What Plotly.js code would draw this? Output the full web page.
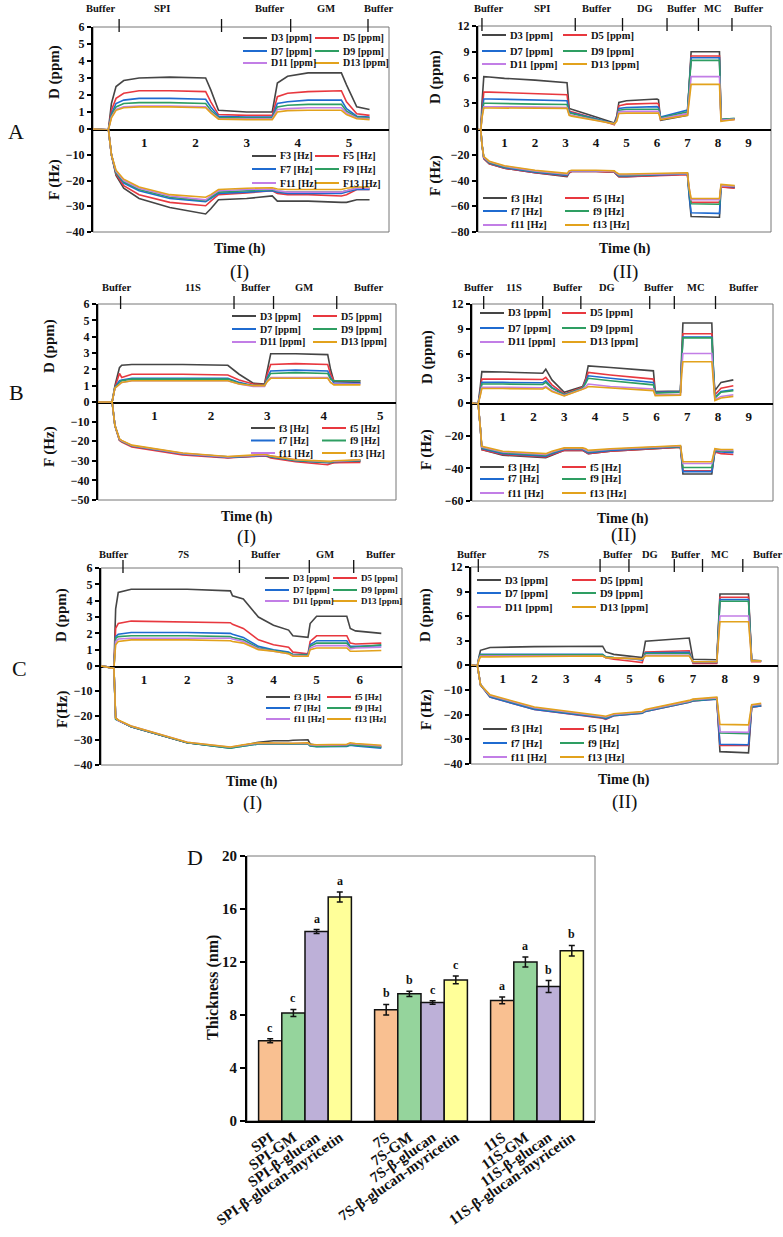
<!DOCTYPE html>
<html>
<head>
<meta charset="utf-8">
<script src="https://cdn.plot.ly/plotly-3.0.1.min.js"></script>
<style>body{margin:0;background:#fff}</style>
</head>
<body>
<div id="chart" style="width:783px;height:1237px"></div>
<script>
// ---------- A (I): SPI / GM ----------
var A1_t   = [0, 0.3, 0.36, 0.45, 0.6, 0.9, 1.5, 2.2, 2.3, 2.45, 3.0, 3.5, 3.6, 3.8, 4.2, 4.85, 4.95, 5.15, 5.4];
var A1_D3  = [0, -0.05, 1.5, 2.5, 2.85, 3.0, 3.05, 3.0, 2.3, 1.1, 1.0, 1.0, 2.7, 3.1, 3.3, 3.3, 2.6, 1.3, 1.15];
var A1_D5  = [0, -0.05, 1.1, 1.8, 2.1, 2.25, 2.25, 2.2, 1.6, 0.85, 0.8, 0.8, 1.9, 2.1, 2.2, 2.25, 1.6, 0.9, 0.8];
var A1_D7  = [0, -0.05, 0.9, 1.5, 1.7, 1.8, 1.8, 1.75, 1.3, 0.75, 0.7, 0.7, 1.5, 1.6, 1.7, 1.7, 1.2, 0.75, 0.7];
var A1_D9  = [0, -0.05, 0.8, 1.3, 1.5, 1.55, 1.55, 1.5, 1.1, 0.68, 0.65, 0.65, 1.3, 1.4, 1.45, 1.45, 1.05, 0.7, 0.65];
var A1_D11 = [0, -0.05, 0.7, 1.15, 1.3, 1.35, 1.35, 1.3, 1.0, 0.62, 0.6, 0.6, 1.15, 1.2, 1.25, 1.25, 0.95, 0.65, 0.6];
var A1_D13 = [0, -0.05, 0.65, 1.1, 1.25, 1.3, 1.3, 1.25, 0.95, 0.58, 0.55, 0.55, 1.0, 1.08, 1.1, 1.1, 0.85, 0.6, 0.55];
var A1_F3  = [0, 0, -10, -18, -23, -27, -30.5, -33, -31, -27.5, -27, -26, -28, -28, -28, -28.5, -28.5, -27.5, -27.5];
var A1_F5  = [0, 0, -10, -17.5, -22, -25.5, -28.5, -29.8, -28, -25.5, -24.8, -24, -25, -25.5, -25.5, -26, -25.5, -23.5, -23.5];
var A1_F7  = [0, 0, -10, -17, -21, -24, -27, -28.2, -27, -25, -24.5, -24, -24.5, -25, -25, -25, -24.5, -23.5, -23.5];
var A1_F9  = [0, 0, -10, -17, -20.5, -23.5, -26.5, -27.8, -26.5, -24.5, -24, -23.5, -24.2, -24.5, -24.5, -24.5, -24, -23, -23];
var A1_F11 = [0, 0, -10, -16.5, -20, -23, -26, -27.5, -26, -24, -23.5, -23.3, -24, -24.5, -24.5, -24.5, -24, -23, -23];
var A1_F13 = [0, 0, -10, -16, -19.5, -22.5, -25.5, -26.5, -25.5, -23.5, -23, -22.8, -23.3, -23.5, -23.5, -23.5, -23, -22.5, -22.5];
var A1_bounds = [0.51, 2.51, 3.86, 5.37];
var A1_stages = ['Buffer', 'SPI', 'Buffer', 'GM', 'Buffer'];
var A1_stageX = [0.14, 1.34, 3.44, 4.55, 5.57];

// ---------- A (II): SPI / DG / MC ----------
var A2_t   = [0.13, 0.22, 0.26, 0.32, 0.5, 1.0, 2.0, 3.05, 3.12, 3.2, 4.0, 4.6, 4.68, 4.75, 5.0, 6.0, 6.05, 6.12, 7.0, 7.05, 7.12, 8.0, 8.05, 8.1, 8.55];
var A2_D3  = [0, -0.2, 3.0, 6.1, 6.05, 5.9, 5.7, 5.4, 2.4, 2.3, 1.4, 0.7, 1.5, 3.1, 3.3, 3.5, 3.4, 1.0, 1.6, 5.0, 9.0, 9.0, 9.0, 1.1, 1.2];
var A2_D5  = [0, -0.2, 2.0, 4.3, 4.3, 4.25, 4.15, 4.0, 2.1, 2.0, 1.2, 0.5, 1.3, 2.7, 2.9, 3.0, 2.9, 1.1, 1.8, 4.5, 8.5, 8.5, 8.5, 1.0, 1.1];
var A2_D7  = [0, -0.2, 1.8, 3.5, 3.5, 3.45, 3.4, 3.3, 2.0, 1.9, 1.2, 0.6, 1.2, 2.4, 2.5, 2.6, 2.5, 1.4, 2.2, 4.5, 8.3, 8.3, 8.3, 1.1, 1.2];
var A2_D9  = [0, -0.2, 1.6, 3.0, 3.0, 2.95, 2.9, 2.85, 1.9, 1.8, 1.1, 0.6, 1.1, 2.2, 2.3, 2.35, 2.3, 1.3, 2.0, 4.5, 8.0, 8.0, 8.0, 1.1, 1.25];
var A2_D11 = [0, -0.2, 1.4, 2.6, 2.6, 2.6, 2.55, 2.5, 1.7, 1.6, 1.0, 0.6, 1.0, 2.0, 2.05, 2.1, 2.05, 1.2, 1.8, 3.5, 6.1, 6.1, 6.1, 1.0, 1.15];
var A2_D13 = [0, -0.2, 1.3, 2.45, 2.45, 2.45, 2.4, 2.4, 1.6, 1.5, 1.0, 0.6, 0.9, 1.8, 1.85, 1.9, 1.85, 1.1, 1.6, 3.0, 5.2, 5.2, 5.2, 0.9, 1.1];
var A2_F3  = [0, 0, -12, -23, -27, -30.5, -34, -37, -34, -33, -33, -33.5, -35.5, -37, -37, -36, -36, -36, -35, -50, -68, -68.5, -68.5, -45, -45.5];
var A2_F5  = [0, 0, -12, -23, -27, -30.5, -34, -36.5, -34, -33, -33, -33.5, -35.5, -37, -37, -36, -36, -36, -35.5, -47, -57, -57, -57, -45, -46];
var A2_F7  = [0, 0, -12, -22.5, -26.5, -30, -33.5, -36, -33.5, -32.5, -32.5, -33, -35, -36.5, -36.5, -35.5, -35.5, -35.5, -35, -50, -65, -65.5, -65.5, -44, -45];
var A2_F9  = [0, 0, -12, -22, -26, -29.5, -33, -35.5, -33, -32.5, -32.5, -33, -34.5, -36, -36, -35, -35, -35, -34.5, -47, -58, -58.5, -58.5, -44, -44.5];
var A2_F11 = [0, 0, -12, -22, -25.5, -29, -32.5, -35, -33, -32.5, -32.5, -33, -34.5, -35.5, -35.5, -35, -35, -35, -34.5, -45, -55, -55, -55, -44, -44.5];
var A2_F13 = [0, 0, -12, -21.5, -25, -28.5, -32, -34.5, -32.5, -32, -32, -32.5, -34, -35, -35, -34.5, -34.5, -34.5, -34, -45, -54, -54, -54, -43, -44];
var A2_bounds = [0.26, 3.32, 4.87, 6.33, 7.36, 8.46];
var A2_stages = ['Buffer', 'SPI', 'Buffer', 'DG', 'Buffer', 'MC', 'Buffer'];
var A2_stageX = [0.48, 2.23, 4.03, 5.61, 6.82, 7.85, 9.0];

// ---------- B (I): 11S / GM ----------
var B1_t   = [0, 0.25, 0.3, 0.38, 0.42, 0.6, 1.5, 2.3, 2.5, 2.75, 2.95, 3.0, 3.06, 3.5, 4.07, 4.12, 4.18, 4.65];
var B1_D3  = [0, 0, 1.0, 2.1, 2.25, 2.3, 2.3, 2.25, 1.7, 1.15, 1.1, 2.0, 2.95, 2.95, 2.9, 2.0, 1.25, 1.2];
var B1_D5  = [0, 0, 0.9, 1.75, 1.5, 1.7, 1.7, 1.65, 1.35, 1.1, 1.05, 1.7, 2.3, 2.35, 2.3, 1.7, 1.3, 1.3];
var B1_D7  = [0, 0, 0.9, 1.3, 1.35, 1.45, 1.45, 1.45, 1.2, 1.0, 1.0, 1.5, 1.9, 1.95, 1.9, 1.5, 1.15, 1.15];
var B1_D9  = [0, 0, 0.9, 1.2, 1.3, 1.4, 1.4, 1.4, 1.15, 1.0, 1.0, 1.4, 1.75, 1.8, 1.75, 1.4, 1.3, 1.3];
var B1_D11 = [0, 0, 0.85, 1.1, 1.2, 1.3, 1.3, 1.3, 1.1, 0.95, 0.95, 1.3, 1.5, 1.5, 1.5, 1.2, 1.1, 1.1];
var B1_D13 = [0, 0, 0.85, 1.1, 1.2, 1.3, 1.3, 1.3, 1.1, 1.0, 1.0, 1.25, 1.45, 1.45, 1.45, 1.2, 1.05, 1.05];
var B1_F3  = [0, 0, -12, -19.5, -20, -22.5, -26.5, -28.3, -28, -27.5, -27.3, -27.5, -28, -30, -31, -31, -30.8, -30.2];
var B1_F5  = [0, 0, -12, -19.5, -20.5, -23, -27, -28.5, -28.2, -27.8, -27.5, -27.8, -28.5, -30.5, -32, -31.5, -31, -30.8];
var B1_F7  = [0, 0, -12, -19, -20, -22.5, -26.5, -28.3, -28, -27.5, -27.3, -27.5, -28, -30, -31, -31, -30.5, -30];
var B1_F9  = [0, 0, -12, -19, -20, -22.3, -26.3, -28, -27.8, -27.3, -27, -27.3, -27.8, -29.8, -30.8, -30.8, -30.3, -29.8];
var B1_F11 = [0, 0, -12, -19, -19.8, -22.2, -26.2, -28, -27.7, -27.2, -26.8, -27, -27.5, -29.5, -30.5, -30.5, -30.2, -29.6];
var B1_F13 = [0, 0, -12, -18.8, -19.6, -22, -26, -27.8, -27.5, -27, -26.7, -27, -27.5, -29.5, -30.5, -30.3, -30, -29.5];
var B1_bounds = [0.40, 2.41, 3.11, 4.23];
var B1_stages = ['Buffer', '11S', 'Buffer', 'GM', 'Buffer'];
var B1_stageX = [0.33, 1.69, 2.79, 3.65, 4.79];

// ---------- B (II): 11S / DG / MC ----------
var B2_t   = [0, 0.2, 0.27, 0.32, 1.0, 2.3, 2.4, 2.6, 3.0, 3.6, 3.7, 3.78, 4.5, 5.9, 5.96, 6.78, 6.82, 6.86, 7.8, 7.85, 7.9, 8.1, 8.5];
var B2_D3  = [0, -0.1, 2.0, 3.8, 3.75, 3.6, 4.1, 2.8, 1.3, 2.0, 3.0, 4.5, 4.3, 3.9, 1.4, 1.45, 6.0, 9.7, 9.7, 4.0, 1.5, 2.5, 2.8];
var B2_D5  = [0, -0.1, 1.5, 2.9, 2.9, 2.85, 3.1, 2.2, 1.1, 1.9, 2.8, 3.7, 3.4, 2.9, 1.3, 1.35, 5.0, 8.4, 8.4, 3.5, 1.0, 1.8, 2.1];
var B2_D7  = [0, -0.1, 1.3, 2.5, 2.5, 2.45, 2.7, 1.9, 1.0, 1.8, 2.6, 3.3, 3.0, 2.5, 1.3, 1.35, 5.0, 8.0, 8.0, 3.3, 0.7, 1.4, 1.6];
var B2_D9  = [0, -0.1, 1.2, 2.3, 2.3, 2.25, 2.5, 1.8, 1.0, 1.8, 2.4, 3.0, 2.7, 2.2, 1.2, 1.3, 5.0, 7.9, 7.9, 3.2, 0.6, 1.3, 1.5];
var B2_D11 = [0, -0.1, 1.0, 1.9, 1.9, 1.85, 2.0, 1.5, 0.9, 1.7, 2.0, 2.3, 2.0, 1.7, 1.0, 1.05, 4.0, 6.0, 6.0, 2.5, 0.4, 0.8, 1.0];
var B2_D13 = [0, -0.1, 0.9, 1.75, 1.75, 1.7, 1.9, 1.4, 0.85, 1.6, 1.8, 2.0, 1.8, 1.5, 0.9, 0.95, 3.5, 5.0, 5.0, 2.2, 0.3, 0.6, 0.8];
var B2_F3  = [0, 0, -15, -28.5, -32, -33.5, -33.5, -32, -29, -29, -30, -31, -29.5, -28, -28, -27, -35, -43.5, -43.5, -35, -29, -29.5, -30];
var B2_F5  = [0, 0, -15, -28.5, -31.5, -33, -33, -31.5, -29, -29, -30, -31, -29.5, -28, -28, -27, -34, -41.5, -41.5, -34, -30, -31, -31.5];
var B2_F7  = [0, 0, -15, -28, -31, -32.5, -32.5, -31, -28.5, -28.5, -29.5, -30.5, -29, -27.5, -27.5, -26.8, -34, -42, -42, -34, -29.5, -30, -30.5];
var B2_F9  = [0, 0, -15, -27.5, -30.5, -32, -32, -30.5, -28, -28, -29, -30, -28.5, -27.3, -27.3, -26.6, -33, -39.5, -39.5, -33, -29, -29.5, -29.5];
var B2_F11 = [0, 0, -15, -27, -30, -31.5, -31.5, -30, -27.8, -27.8, -28.5, -29.5, -28.3, -27, -27, -26.3, -32, -37, -37, -32, -28.5, -29, -29];
var B2_F13 = [0, 0, -15, -26.5, -29.5, -31, -31, -29.5, -27.5, -27.5, -28, -29, -28, -26.8, -26.8, -26, -31, -36, -36, -31, -28, -28.5, -28.5];
var B2_bounds = [0.38, 2.30, 3.54, 5.78, 6.58, 7.92];
var B2_stages = ['Buffer', '11S', 'Buffer', 'DG', 'Buffer', 'MC', 'Buffer'];
var B2_stageX = [0.22, 1.36, 3.09, 4.39, 6.07, 7.30, 8.84];

// ---------- C (I): 7S / GM ----------
var C1_t   = [0, 0.3, 0.34, 0.4, 0.7, 2.0, 3.0, 3.05, 3.3, 3.65, 4.0, 4.35, 4.45, 4.8, 4.85, 5.0, 5.7, 5.78, 5.9, 6.5];
var C1_D3  = [0, -0.1, 3.5, 4.5, 4.7, 4.7, 4.6, 4.3, 4.1, 3.0, 2.5, 2.2, 1.85, 1.75, 2.6, 3.05, 3.05, 2.3, 2.15, 2.0];
var C1_D5  = [0, -0.1, 2.3, 2.6, 2.75, 2.7, 2.65, 2.55, 2.3, 1.6, 1.3, 1.15, 0.85, 0.75, 1.5, 1.85, 1.85, 1.4, 1.35, 1.4];
var C1_D7  = [0, -0.1, 1.8, 1.95, 2.05, 2.05, 2.0, 1.95, 1.75, 1.2, 1.0, 0.85, 0.7, 0.7, 1.3, 1.55, 1.55, 1.2, 1.2, 1.25];
var C1_D9  = [0, -0.1, 1.7, 1.8, 1.85, 1.85, 1.8, 1.75, 1.6, 1.1, 0.95, 0.8, 0.7, 0.65, 1.2, 1.4, 1.4, 1.15, 1.15, 1.3];
var C1_D11 = [0, -0.1, 1.5, 1.65, 1.7, 1.7, 1.7, 1.65, 1.5, 1.05, 0.9, 0.75, 0.65, 0.6, 1.1, 1.25, 1.25, 1.05, 1.1, 1.15];
var C1_D13 = [0, -0.1, 1.3, 1.5, 1.6, 1.6, 1.55, 1.5, 1.4, 1.0, 0.9, 0.75, 0.6, 0.6, 1.0, 1.1, 1.1, 0.9, 0.9, 0.95];
var C1_F3  = [0, -1, -21, -22, -24.5, -31, -33, -32.8, -32, -30.8, -30.2, -30.2, -30, -29.8, -31.5, -32, -32, -31.5, -31.8, -32.5];
var C1_F5  = [0, -1, -21, -22, -24.5, -31, -33, -32.8, -32, -31.3, -31.5, -31.5, -31.5, -31.3, -32, -32.3, -32.2, -31.8, -32, -32.8];
var C1_F7  = [0, -1, -21.5, -22, -24.5, -31, -33.2, -33, -32.3, -31.5, -31.5, -31.5, -31.5, -31.5, -32.3, -32.6, -32.5, -32, -32.3, -33.2];
var C1_F9  = [0, -1, -21.5, -22, -24.5, -31, -33.2, -33, -32.3, -31.5, -31.5, -31.5, -31.5, -31.5, -32.2, -32.5, -32.3, -31.8, -32, -32.8];
var C1_F11 = [0, -1, -21, -22, -24.3, -30.8, -32.8, -32.6, -32, -31.2, -31.3, -31.3, -31.3, -31.2, -31.8, -32, -31.8, -31.3, -31.5, -32.3];
var C1_F13 = [0, -1, -21, -21.8, -24.2, -30.8, -32.7, -32.5, -31.8, -31, -31.2, -31.2, -31.2, -31, -31.6, -31.8, -31.6, -31, -31.3, -32];
var C1_bounds = [0.51, 3.21, 4.83, 5.86];
var C1_stages = ['Buffer', '7S', 'Buffer', 'GM', 'Buffer'];
var C1_stageX = [0.30, 1.91, 3.82, 5.2, 6.48];

// ---------- C (II): 7S / DG / MC ----------
var C2_t   = [0, 0.2, 0.25, 0.3, 0.6, 2.0, 4.15, 4.25, 4.5, 5.0, 5.4, 5.45, 5.5, 6.88, 6.93, 7.0, 7.75, 7.8, 7.85, 8.75, 8.8, 8.85, 9.15];
var C2_D3  = [0, -0.1, 1.0, 1.8, 2.15, 2.25, 2.3, 1.6, 1.3, 1.1, 0.9, 1.8, 2.9, 3.3, 2.0, 0.7, 0.65, 4.5, 8.7, 8.7, 4.0, 0.6, 0.5];
var C2_D5  = [0, -0.1, 0.8, 1.2, 1.2, 1.2, 1.2, 0.9, 0.7, 0.5, 0.3, 1.0, 1.6, 1.75, 1.0, 0.2, 0.2, 4.3, 8.3, 8.3, 4.0, 0.4, 0.4];
var C2_D7  = [0, -0.1, 0.8, 1.3, 1.3, 1.3, 1.3, 1.0, 0.9, 0.8, 0.6, 1.0, 1.5, 1.55, 1.0, 0.3, 0.3, 4.2, 8.0, 8.0, 3.8, 0.5, 0.5];
var C2_D9  = [0, -0.1, 0.8, 1.25, 1.25, 1.25, 1.25, 1.0, 0.9, 0.8, 0.7, 1.0, 1.4, 1.4, 0.9, 0.4, 0.4, 4.0, 7.8, 7.8, 3.7, 0.5, 0.5];
var C2_D11 = [0, -0.1, 0.7, 1.1, 1.1, 1.1, 1.1, 0.9, 0.85, 0.8, 0.75, 0.9, 1.2, 1.2, 0.8, 0.4, 0.4, 3.2, 6.0, 6.0, 3.0, 0.5, 0.5];
var C2_D13 = [0, -0.1, 0.6, 1.0, 1.0, 1.05, 1.1, 0.9, 0.85, 0.8, 0.75, 0.9, 1.1, 1.1, 0.8, 0.4, 0.4, 2.8, 5.3, 5.3, 2.7, 0.5, 0.5];
var C2_F3  = [0, 0, -4, -8, -12.5, -17.5, -21, -21.5, -20.3, -19.7, -19.2, -18.8, -18.5, -14.8, -14.5, -14.3, -13.5, -24, -35, -35.5, -25, -17, -16.5];
var C2_F5  = [0, 0, -4, -8, -13, -18, -21.5, -22, -20.5, -20, -19.5, -19, -18.8, -15, -14.7, -14.5, -13.7, -23, -32.5, -32.5, -24, -17, -16.5];
var C2_F7  = [0, 0, -4, -8, -13, -18, -21.3, -21.8, -20.5, -20, -19.5, -19, -18.8, -15, -14.7, -14.5, -13.8, -23, -32, -32.2, -24, -17, -16.5];
var C2_F9  = [0, 0, -4, -8, -12.5, -17.5, -21, -21.3, -20.2, -19.7, -19.2, -18.8, -18.5, -14.8, -14.5, -14.3, -13.5, -20, -27.5, -27.8, -22, -16.5, -16];
var C2_F11 = [0, 0, -4, -8, -12.3, -17.3, -20.8, -21, -20, -19.5, -19, -18.6, -18.3, -14.6, -14.3, -14, -13.3, -20, -27, -27.2, -21, -16.3, -15.8];
var C2_F13 = [0, 0, -4, -8, -12, -17, -20.5, -20.7, -19.7, -19.2, -18.8, -18.4, -18, -14.3, -14, -13.8, -13, -18, -24, -24.2, -20, -16, -15.5];
var C2_bounds = [0.23, 4.07, 4.98, 6.41, 7.30, 8.57];
var C2_stages = ['Buffer', '7S', 'Buffer', 'DG', 'Buffer', 'MC', 'Buffer'];
var C2_stageX = [0.0, 2.28, 4.63, 5.65, 6.77, 7.86, 9.36];

// ---------- D: thickness ----------
var barNames   = ['SPI', 'SPI-GM', 'SPI-β-glucan', 'SPI-β-glucan-myricetin',
                  '7S', '7S-GM', '7S-β-glucan', '7S-β-glucan-myricetin',
                  '11S', '11S-GM', '11S-β-glucan', '11S-β-glucan-myricetin'];
var barValues  = [6.05, 8.15, 14.3, 16.9, 8.4, 9.6, 8.95, 10.65, 9.1, 12.0, 10.15, 12.85];
var barErrors  = [0.15, 0.27, 0.15, 0.38, 0.4, 0.2, 0.13, 0.3, 0.25, 0.38, 0.45, 0.4];
var barLetters = ['c', 'c', 'a', 'a', 'b', 'b', 'c', 'c', 'a', 'a', 'b', 'b'];

var harmonics = ['3', '5', '7', '9', '11', '13'];
var lineColors = ['#454545', '#e8383f', '#1f6bd0', '#2e9e62', '#c27ee6', '#e2a21c'];
var barColors = ['#f9c091', '#95d49c', '#bdb0d8', '#ffff99'];

var FONT = '"Liberation Serif", "Times New Roman", serif';
var W = 783, H = 1237;
function px(x) { return x / W; }
function py(y) { return 1 - y / H; }
function ref(letter, n) { return n === 1 ? letter : letter + n; }
function key(letter, n) { return n === 1 ? letter + 'axis' : letter + 'axis' + n; }
function bold(size) { return {family: FONT, size: size, color: '#111', weight: 'bold'}; }

var panels = [
  {t: A1_t, D: [A1_D3, A1_D5, A1_D7, A1_D9, A1_D11, A1_D13], F: [A1_F3, A1_F5, A1_F7, A1_F9, A1_F11, A1_F13],
   fPrefix: 'F', box: [93, 389, 27, 129, 232], xRange: [0, 5.78], xTicks: [1, 2, 3, 4, 5],
   dTicks: [0, 1, 2, 3, 4, 5, 6], fTicks: [-40, -30, -20, -10],
   bounds: A1_bounds, stages: A1_stages, stageX: A1_stageX, stageY: 9,
   dLeg: {x: [243, 315], y: [38, 51, 63]}, fLeg: {x: [252, 315], y: [156, 169, 183]}, legSize: 10,
   yTitleX: 55, dTitleY: 72, fTitleY: 180, fTitle: 'F (Hz)',
   timeX: 240, timeY: 249, roman: '(I)', romanY: 272},
  {t: A2_t, D: [A2_D3, A2_D5, A2_D7, A2_D9, A2_D11, A2_D13], F: [A2_F3, A2_F5, A2_F7, A2_F9, A2_F11, A2_F13],
   fPrefix: 'f', box: [478, 771, 26, 129, 232], xRange: [0.13, 9.74], xTicks: [1, 2, 3, 4, 5, 6, 7, 8, 9],
   dTicks: [0, 3, 6, 9, 12], fTicks: [-80, -60, -40, -20],
   bounds: A2_bounds, stages: A2_stages, stageX: A2_stageX, stageY: 9,
   dLeg: {x: [482, 563], y: [35, 51, 64]}, fLeg: {x: [483, 565], y: [198, 211, 225]}, legSize: 10.5,
   yTitleX: 436, dTitleY: 77, fTitleY: 175, fTitle: 'F (Hz)',
   timeX: 625, timeY: 249, roman: '(II)', romanY: 272},
  {t: B1_t, D: [B1_D3, B1_D5, B1_D7, B1_D9, B1_D11, B1_D13], F: [B1_F3, B1_F5, B1_F7, B1_F9, B1_F11, B1_F13],
   fPrefix: 'f', box: [98, 396, 304, 402, 500], xRange: [0, 5.28], xTicks: [1, 2, 3, 4, 5],
   dTicks: [0, 1, 2, 3, 4, 5, 6], fTicks: [-50, -40, -30, -20, -10],
   bounds: B1_bounds, stages: B1_stages, stageX: B1_stageX, stageY: 288,
   dLeg: {x: [232, 313], y: [316, 329, 342]}, fLeg: {x: [251, 322], y: [428, 440.5, 453]}, legSize: 10,
   yTitleX: 49, dTitleY: 346, fTitleY: 447, fTitle: 'F (Hz)',
   timeX: 247, timeY: 517, roman: '(I)', romanY: 537},
  {t: B2_t, D: [B2_D3, B2_D5, B2_D7, B2_D9, B2_D11, B2_D13], F: [B2_F3, B2_F5, B2_F7, B2_F9, B2_F11, B2_F13],
   fPrefix: 'f', box: [472, 773, 304, 403, 501], xRange: [0, 9.79], xTicks: [1, 2, 3, 4, 5, 6, 7, 8, 9],
   dTicks: [0, 3, 6, 9, 12], fTicks: [-60, -40, -20],
   bounds: B2_bounds, stages: B2_stages, stageX: B2_stageX, stageY: 288,
   dLeg: {x: [480, 562], y: [313, 328, 342]}, fLeg: {x: [480, 562], y: [467, 479, 493]}, legSize: 10.5,
   yTitleX: 427, dTitleY: 357, fTitleY: 450, fTitle: 'F (Hz)',
   timeX: 623, timeY: 519, roman: '(II)', romanY: 535},
  {t: C1_t, D: [C1_D3, C1_D5, C1_D7, C1_D9, C1_D11, C1_D13], F: [C1_F3, C1_F5, C1_F7, C1_F9, C1_F11, C1_F13],
   fPrefix: 'f', box: [101, 402, 568, 666, 765], xRange: [0, 6.98], xTicks: [1, 2, 3, 4, 5, 6],
   dTicks: [0, 1, 2, 3, 4, 5, 6], fTicks: [-40, -30, -20, -10],
   bounds: C1_bounds, stages: C1_stages, stageX: C1_stageX, stageY: 554,
   dLeg: {x: [265, 333], y: [578, 590, 601]}, fLeg: {x: [266, 327], y: [697, 708, 719]}, legSize: 9,
   yTitleX: 62, dTitleY: 615, fTitleY: 710, fTitle: 'F(Hz)',
   timeX: 252, timeY: 782, roman: '(I)', romanY: 803},
  {t: C2_t, D: [C2_D3, C2_D5, C2_D7, C2_D9, C2_D11, C2_D13], F: [C2_F3, C2_F5, C2_F7, C2_F9, C2_F11, C2_F13],
   fPrefix: 'f', box: [471, 778, 567, 665, 764], xRange: [0, 9.68], xTicks: [1, 2, 3, 4, 5, 6, 7, 8, 9],
   dTicks: [0, 3, 6, 9, 12], fTicks: [-40, -30, -20, -10],
   bounds: C2_bounds, stages: C2_stages, stageX: C2_stageX, stageY: 554,
   dLeg: {x: [477, 572], y: [580, 593, 607]}, fLeg: {x: [483, 560], y: [729, 743, 757]}, legSize: 10.5,
   yTitleX: 426, dTitleY: 615, fTitleY: 710, fTitle: 'F (Hz)',
   timeX: 624, timeY: 780, roman: '(II)', romanY: 802}
];

var traces = [];
var layout = {
  width: W, height: H,
  margin: {l: 0, r: 0, t: 0, b: 0},
  paper_bgcolor: '#fff', plot_bgcolor: 'rgba(0,0,0,0)',
  showlegend: false,
  font: {family: FONT, color: '#111'},
  shapes: [], annotations: []
};

// text placed by its centre at a pixel position of the page
function note(text, x, y, font, extra) {
  var a = {xref: 'paper', yref: 'paper', x: px(x), y: py(y), xanchor: 'center', yanchor: 'middle',
    showarrow: false, text: text, font: font};
  layout.annotations.push(Object.assign(a, extra || {}));
}

function legendBlock(leg, names, size) {
  for (var k = 0; k < names.length; k++) {
    var col = k % 2, row = Math.floor(k / 2);
    var x0 = leg.x[col], y0 = leg.y[row];
    layout.shapes.push({type: 'line', xref: 'paper', yref: 'paper',
      x0: px(x0), x1: px(x0 + 24), y0: py(y0), y1: py(y0),
      line: {color: lineColors[k], width: 2}});
    note(names[k], x0 + 26, y0, bold(size), {xanchor: 'left'});
  }
}

panels.forEach(function (p, i) {
  var xn = i + 1, yd = 2 * i + 1, yf = 2 * i + 2;
  var L = p.box[0], R = p.box[1], T = p.box[2], Z = p.box[3], B = p.box[4];

  for (var k = 0; k < 6; k++) {
    traces.push({x: p.t, y: p.D[k], xaxis: ref('x', xn), yaxis: ref('y', yd), type: 'scatter',
      mode: 'lines', line: {color: lineColors[k], width: 1.6}, hoverinfo: 'skip'});
  }
  for (var k2 = 0; k2 < 6; k2++) {
    traces.push({x: p.t, y: p.F[k2], xaxis: ref('x', xn), yaxis: ref('y', yf), type: 'scatter',
      mode: 'lines', line: {color: lineColors[k2], width: 1.6}, hoverinfo: 'skip'});
  }

  layout[key('x', xn)] = {
    domain: [px(L), px(R)], range: p.xRange, anchor: ref('y', yd),
    tickvals: p.xTicks, ticks: '',
    showline: true, linewidth: 2, linecolor: '#000', showgrid: false, zeroline: false,
    tickfont: bold(13)
  };
  var yStyle = {
    anchor: ref('x', xn), ticks: 'outside', ticklen: 4, tickwidth: 1.5, tickcolor: '#000',
    showline: true, linewidth: 2, linecolor: '#000', showgrid: false, zeroline: false,
    tickfont: bold(12)
  };
  layout[key('y', yd)] = Object.assign({}, yStyle, {domain: [py(Z), py(T)],
    range: [0, p.dTicks[p.dTicks.length - 1]], tickvals: p.dTicks});
  layout[key('y', yf)] = Object.assign({}, yStyle, {domain: [py(B), py(Z)],
    range: [p.fTicks[0], 0], tickvals: p.fTicks});

  // frame
  layout.shapes.push({type: 'rect', xref: 'paper', yref: 'paper', layer: 'below',
    x0: px(L), x1: px(R), y0: py(B), y1: py(T), line: {color: '#777', width: 1}});

  // stage boundaries and labels
  p.bounds.forEach(function (b) {
    layout.shapes.push({type: 'line', xref: ref('x', xn), yref: 'paper',
      x0: b, x1: b, y0: py(T + 5), y1: py(T - 8), line: {color: '#111', width: 1.3}});
  });
  p.stages.forEach(function (s, j) {
    layout.annotations.push({xref: ref('x', xn), yref: 'paper', x: p.stageX[j], y: py(p.stageY),
      xanchor: 'center', yanchor: 'middle', showarrow: false, text: s, font: bold(10.5)});
  });

  // legends
  legendBlock(p.dLeg, harmonics.map(function (h) { return 'D' + h + ' [ppm]'; }), p.legSize);
  legendBlock(p.fLeg, harmonics.map(function (h) { return p.fPrefix + h + ' [Hz]'; }), p.legSize);

  // titles
  note('D (ppm)', p.yTitleX, p.dTitleY, bold(15), {textangle: -90});
  note(p.fTitle, p.yTitleX, p.fTitleY, bold(15), {textangle: -90});
  note('Time (h)', p.timeX, p.timeY, bold(14));
  note(p.roman, p.timeX, p.romanY, {family: FONT, size: 19, color: '#111'});
});

// panel letters
note('A', 16, 132, {family: FONT, size: 22, color: '#111'});
note('B', 16, 392, {family: FONT, size: 22, color: '#111'});
note('C', 19, 668, {family: FONT, size: 22, color: '#111'});
note('D', 195, 857, {family: FONT, size: 22, color: '#111'});

// ---------- bar chart ----------
var cats = barNames.slice(0, 4).concat([' '], barNames.slice(4, 8), ['  '], barNames.slice(8));
for (var c = 0; c < 4; c++) {
  var xs = [], ys = [], es = [];
  for (var j = c; j < barNames.length; j += 4) {
    xs.push(barNames[j]); ys.push(barValues[j]); es.push(barErrors[j]);
  }
  traces.push({type: 'bar', x: xs, y: ys, xaxis: 'x7', yaxis: 'y13', width: 1,
    marker: {color: barColors[c], line: {color: '#111', width: 1.5}},
    error_y: {type: 'data', array: es, visible: true, color: '#111', thickness: 1.5, width: 3},
    hoverinfo: 'skip'});
}
barNames.forEach(function (n, j) {
  layout.annotations.push({xref: 'x7', yref: 'y13', x: n, y: barValues[j] + barErrors[j],
    xanchor: 'center', yanchor: 'bottom', yshift: 2, showarrow: false, text: barLetters[j], font: bold(12)});
});
layout.barmode = 'overlay';
layout.xaxis7 = {domain: [px(247), px(595)], anchor: 'y13', type: 'category',
  categoryorder: 'array', categoryarray: cats, range: [-1, 14], tickangle: -35,
  ticks: '', showline: true, linewidth: 2, linecolor: '#000', showgrid: false, zeroline: false,
  tickfont: bold(15)};
layout.yaxis13 = {domain: [py(1121), py(856)], anchor: 'x7', range: [0, 20],
  tickvals: [0, 4, 8, 12, 16, 20], ticks: 'outside', ticklen: 5, tickwidth: 1.5, tickcolor: '#000',
  showline: true, linewidth: 2, linecolor: '#000', showgrid: false, zeroline: false,
  tickfont: bold(15)};
layout.shapes.push({type: 'rect', xref: 'paper', yref: 'paper', layer: 'below',
  x0: px(247), x1: px(595), y0: py(1121), y1: py(856), line: {color: '#777', width: 1}});
note('Thickness (nm)', 213, 988, bold(16), {textangle: -90});

Plotly.newPlot('chart', traces, layout, {displayModeBar: false});
</script>
</body>
</html>
